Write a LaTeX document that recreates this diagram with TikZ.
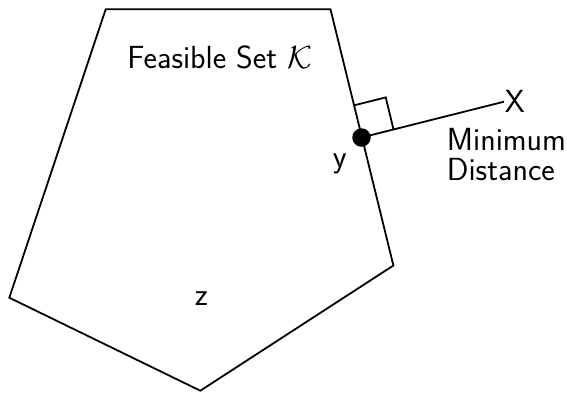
\RequirePackage{fix-cm}
\documentclass[tikz,border=0pt]{standalone}
\usepackage{fontspec}
\usetikzlibrary{calc}
\begin{document}
\begin{tikzpicture}[x=1pt,y=-1pt, line width=1.8pt,
  lbl/.style={font=\sffamily\fontsize{32}{36}\selectfont, inner sep=0pt}]
\useasboundingbox (0,0) rectangle (567,392);
\coordinate (A) at (105.7,9.3);
\coordinate (B) at (330.5,9.3);
\coordinate (C) at (393.4,265.5);
\coordinate (D) at (200.3,390.7);
\coordinate (E) at (9.3,297.7);
\draw[line join=miter] (A) -- (B) -- (C) -- (D) -- (E) -- cycle;
\node[lbl, anchor=west] (X) at (504,101.7) {X};
\coordinate (ypt) at (361.5,137.5);
\coordinate (p1) at ($(ypt)!33pt!(B)$);
\coordinate (p2) at ($(ypt)!33pt!(X.west)$);
\draw (p1) -- ($(p1)+(p2)-(ypt)$) -- (p2);
\draw (ypt) -- (X.west);
\node[circle, fill, inner sep=0pt, minimum size=18.5pt] (y) at (ypt) {};
\node[lbl, anchor=base] (K) at (219.7,68.3) {Feasible Set $\mathcal{K}$};
\node[lbl, anchor=base] (ylab) at (339.7,167) {y};
\node[lbl] (z) at (201.5,298.3) {z};
\node[lbl, anchor=base west] (min) at (446,150) {Minimum};
\node[lbl, anchor=base west] (dist) at (446,180) {Distance};
\end{tikzpicture}
\end{document}
